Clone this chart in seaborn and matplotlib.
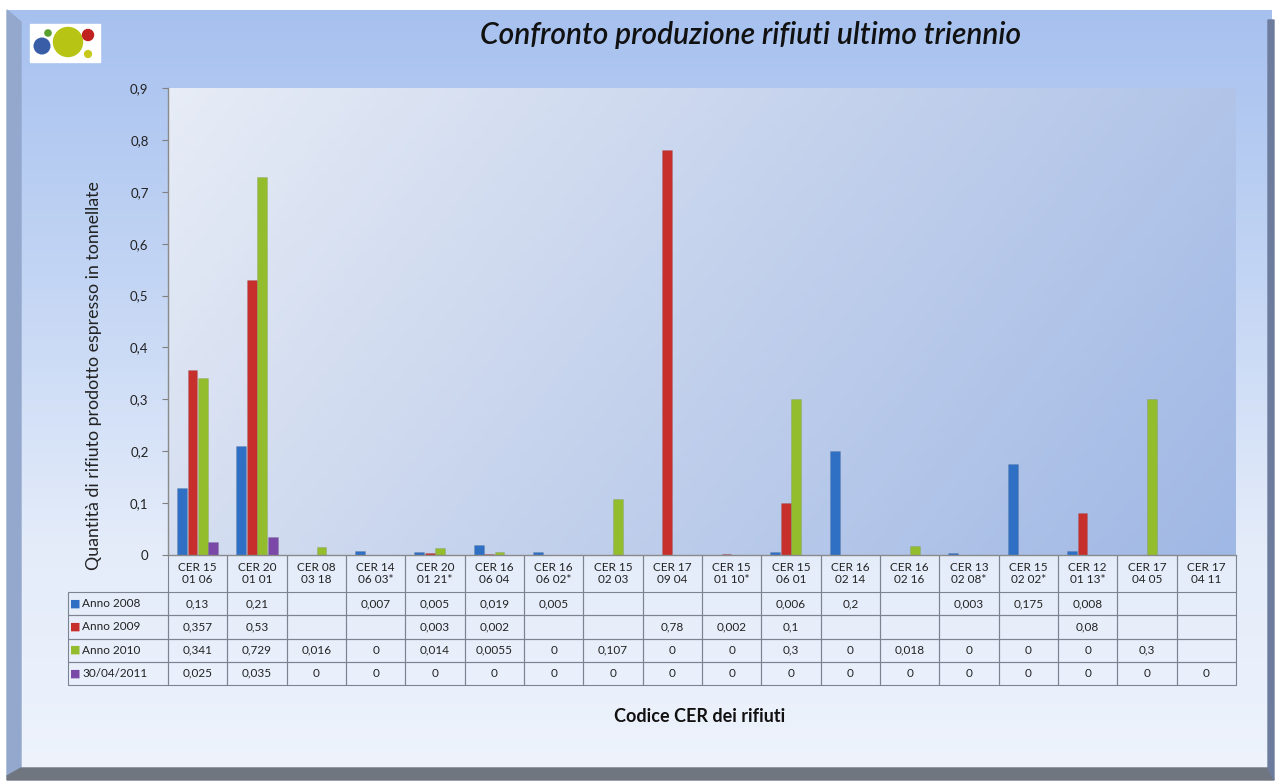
import numpy as np
import pandas as pd
import matplotlib
matplotlib.use("Agg")
import matplotlib.pyplot as plt
import matplotlib.patches as mpatches
from matplotlib.colors import LinearSegmentedColormap
from matplotlib.ticker import FuncFormatter
import seaborn as sns

sns.set_style("white")
plt.rcParams["font.family"] = ["Lato", "DejaVu Sans"]

codes = ["CER 15\n01 06", "CER 20\n01 01", "CER 08\n03 18", "CER 14\n06 03*",
         "CER 20\n01 21*", "CER 16\n06 04", "CER 16\n06 02*", "CER 15\n02 03",
         "CER 17\n09 04", "CER 15\n01 10*", "CER 15\n06 01", "CER 16\n02 14",
         "CER 16\n02 16", "CER 13\n02 08*", "CER 15\n02 02*", "CER 12\n01 13*",
         "CER 17\n04 05", "CER 17\n04 11"]
series = ["Anno 2008", "Anno 2009", "Anno 2010", "30/04/2011"]
nan = np.nan
anno_2008 = [0.13, 0.21, nan, 0.007, 0.005, 0.019, 0.005, nan, nan, nan,
             0.006, 0.2, nan, 0.003, 0.175, 0.008, nan, nan]
anno_2009 = [0.357, 0.53, nan, nan, 0.003, 0.002, nan, nan, 0.78, 0.002,
             0.1, nan, nan, nan, nan, 0.08, nan, nan]
anno_2010 = [0.341, 0.729, 0.016, 0, 0.014, 0.0055, 0, 0.107, 0, 0,
             0.3, 0, 0.018, 0, 0, 0, 0.3, nan]
anno_2011 = [0.025, 0.035, 0, 0, 0, 0, 0, 0, 0, 0,
             0, 0, 0, 0, 0, 0, 0, 0]
colors = ["#2f6fc4", "#c62f2b", "#93bd2c", "#7a48a6"]

values = [anno_2008, anno_2009, anno_2010, anno_2011]
df = pd.DataFrame({
    "codice": codes * len(series),
    "serie": np.repeat(series, len(codes)),
    "valore": np.concatenate(values),
})

W, H = 1277, 782
fig = plt.figure(figsize=(W / 100, H / 100), dpi=100)
fig.patch.set_facecolor("white")

# outer panel with gradient + bevel
bg = fig.add_axes([0, 0, 1, 1], zorder=-10)
bg.set_xlim(0, W)
bg.set_ylim(H, 0)
bg.axis("off")
panel_cmap = LinearSegmentedColormap.from_list(
    "panel", [(0, "#a7c1ef"), (0.35, "#c3d5f4"), (0.7, "#e4ecfa"), (1, "#eef3fc")])
grad = np.linspace(0, 1, 256).reshape(-1, 1)
bg.imshow(grad, cmap=panel_cmap, extent=(8, 1272, 774, 10), aspect="auto")
bg.add_patch(mpatches.Polygon([(7, 10), (21, 22), (21, 768), (7, 776)],
                              closed=True, color="#93a8cc"))
bg.add_patch(mpatches.Polygon([(7, 776), (21, 768), (1268, 768), (1274, 780), (7, 780)],
                              closed=True, color="#707680"))
bg.add_patch(mpatches.Polygon([(1268, 20), (1274, 20), (1274, 780), (1268, 768)],
                              closed=True, color="#6d7c9c"))

# logo
bg.add_patch(mpatches.Rectangle((30, 24), 70, 38, color="white"))
bg.scatter([42, 68, 88, 48, 88], [46, 42, 35, 33, 54],
           s=[150, 480, 80, 30, 35],
           c=["#3a5da8", "#b7c414", "#c0221f", "#5aa02c", "#c6c91a"],
           edgecolors="none")

# plot area
left, right = 168 / W, 1236 / W
bottom, top = (H - 555) / H, (H - 88) / H
ax_bg = fig.add_axes([left, bottom, right - left, top - bottom], zorder=0)
ax_bg.axis("off")
area_cmap = LinearSegmentedColormap.from_list("area", ["#e7ecf6", "#c3d1ec", "#a0b8e5"])
gx, gy = np.meshgrid(np.linspace(0, 1, 200), np.linspace(0, 1, 100))
ax_bg.imshow(0.75 * gx + 0.25 * gy, cmap=area_cmap, aspect="auto",
             extent=(0, 1, 0, 1), vmin=0, vmax=1)

ax = fig.add_axes([left, bottom, right - left, top - bottom], zorder=1)
ax.set_facecolor("none")
sns.barplot(data=df, x="codice", y="valore", hue="serie", order=codes,
            hue_order=series, palette=colors, width=0.7, gap=0.05,
            errorbar=None, legend=False, ax=ax, saturation=1,
            edgecolor="#55555540", linewidth=0.4)
ax.set_xlim(-0.5, len(codes) - 0.5)
ax.set_ylim(0, 0.9)
ax.set_yticks(np.arange(0, 0.91, 0.1))
ax.yaxis.set_major_formatter(FuncFormatter(
    lambda v, p: "0" if abs(v) < 1e-9 else f"{v:.1f}".replace(".", ",")))
ax.tick_params(axis="y", left=True, length=4, color="#808080",
               labelsize=9.5, labelcolor="#222222", pad=10)
ax.set_xticks([])
ax.set_xlabel("")
ax.set_ylabel("Quantità di rifiuto prodotto espresso in tonnellate",
              fontsize=12.8, color="#222222", labelpad=12)
ax.yaxis.set_label_coords(-0.062, (555 - 376) / (555 - 88))
for s in ["top", "right"]:
    ax.spines[s].set_visible(False)
for s in ["left", "bottom"]:
    ax.spines[s].set_color("#8a8a8a")
    ax.spines[s].set_linewidth(1.0)

# data table
ax_h = 555 - 88
tab_left = 68
lab_w = 100
col_w = (1236 - 168) / len(codes)
total_w = 1236 - tab_left
head_h, row_h = 37, 23.25
tab_h = head_h + row_h * len(series)

fmt = lambda v: "" if np.isnan(v) else ("0" if v == 0 else repr(v).replace(".", ","))
cell_text = [[""] + codes]
for name, vals in zip(series, values):
    cell_text.append([name] + [fmt(v) for v in vals])

table = ax.table(cellText=cell_text,
                 colWidths=[lab_w / total_w] + [col_w / total_w] * len(codes),
                 cellLoc="center",
                 bbox=[(tab_left - 168) / (1236 - 168), -tab_h / ax_h,
                       total_w / (1236 - 168), tab_h / ax_h])
table.auto_set_font_size(False)
table.set_fontsize(8.5)
for (r, c), cell in table.get_celld().items():
    cell.set_facecolor("none")
    cell.set_edgecolor("#7d8491")
    cell.set_linewidth(0.8)
    cell.set_height(head_h if r == 0 else row_h)
    cell.get_text().set_color("#222222")
    if r == 0:
        cell.visible_edges = "open" if c == 0 else "LR"
    if c == 0 and r > 0:
        cell._loc = "left"
        cell.PAD = 0.14
        cell.get_text().set_ha("left")

for i, col in enumerate(colors):
    yc = -(head_h + row_h * (i + 0.5)) / ax_h
    ax.text((tab_left + 7 - 168) / (1236 - 168), yc, "■", color=col,
            fontsize=8, ha="center", va="center", transform=ax.transAxes,
            family=["DejaVu Sans"])

fig.text(751 / W, 1 - 35 / H, "Confronto produzione rifiuti ultimo triennio",
         fontsize=21.5, style="italic", weight="semibold", color="#111111",
         ha="center", va="center")
fig.text(700 / W, 1 - 717 / H, "Codice CER dei rifiuti", fontsize=13,
         weight="bold", color="#111111", ha="center", va="center")

fig.savefig("out.png", dpi=100)
